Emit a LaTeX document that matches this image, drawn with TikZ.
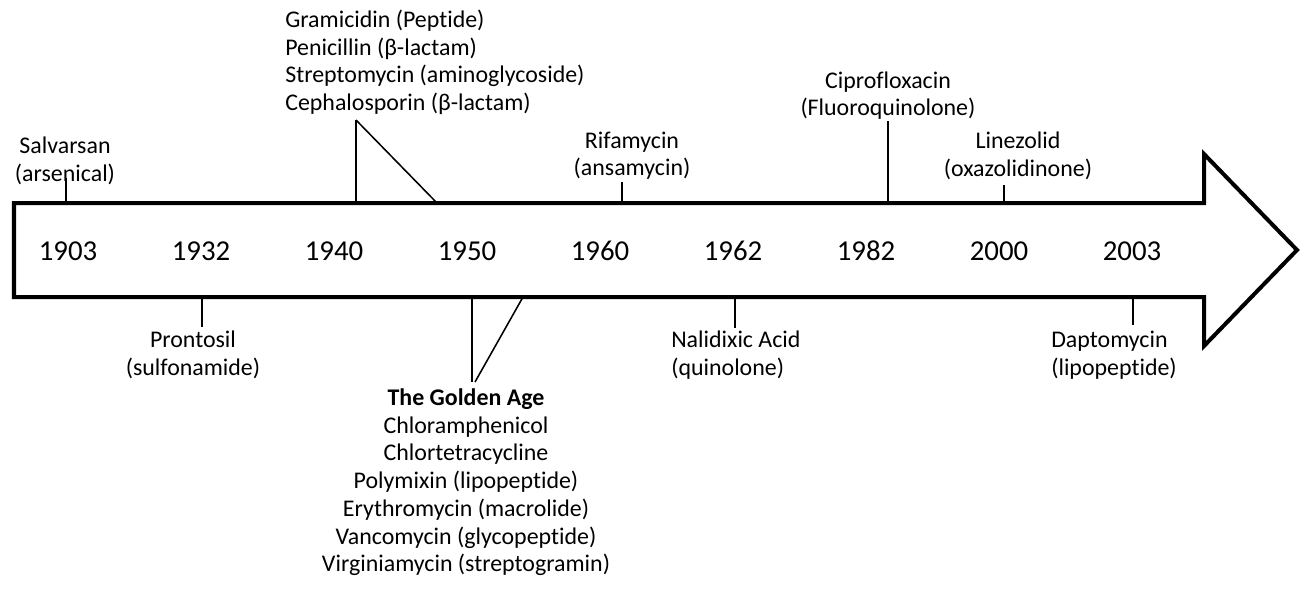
\documentclass[tikz,border=0pt]{standalone}
\usepackage{fontspec}
\setmainfont{Carlito}[Ligatures=NoCommon]
\usetikzlibrary{positioning, calc}

\begin{document}
\begin{tikzpicture}[x=0.025cm, y=-0.025cm]

  % --- ESTILOS ---
  \tikzset{
    timeline/.style={draw=black, line width=2.85pt, miter limit=10},
    year/.style={font=\fontsize{20.5}{24}\selectfont, inner sep=0pt},
    drug/.style={font=\fontsize{17}{19.7}\selectfont, inner sep=0pt, align=center},
    tick/.style={draw=black, line width=1.1pt}
  }

  \useasboundingbox (0,0) rectangle (1303,588);

  % --- SETA PRINCIPAL ---
  \coordinate (top) at (0,203);
  \coordinate (bot) at (0,297);
  \draw[timeline] (14,203) -- (1204,203) -- (1204,154) -- (1297,250)
    -- (1204,346) -- (1204,297) -- (14,297) -- cycle;

  % --- ANOS ---
  \foreach \ano [count=\i from 0] in {1903,1932,1940,1950,1960,1962,1982,2000,2003} {
    \node[year] (y\ano) at (68+133*\i, 251) {\ano};
  }

  % --- RÓTULOS SUPERIORES ---
  \node[drug, anchor=south] (salvarsan) at (65,185) {Salvarsan\\(arsenical)};
  \node[drug, align=left, anchor=south west] (gramicidin) at (285,115)
    {Gramicidin (Peptide)\\Penicillin (β-lactam)\\Streptomycin (aminoglycoside)\\Cephalosporin (β-lactam)};
  \node[drug, anchor=south] (rifamycin) at (632,180) {Rifamycin\\(ansamycin)};
  \node[drug, anchor=south] (cipro) at (888,120) {Ciprofloxacin\\(Fluoroquinolone)};
  \node[drug, anchor=south] (linezolid) at (1018,180) {Linezolid\\(oxazolidinone)};

  % Marcas superiores
  \coordinate (tSal) at (66,178);
  \coordinate (tGra) at (356,120);
  \coordinate (dGra) at (437,203);
  \coordinate (tRif) at (622,182);
  \coordinate (tCip) at (888,121);
  \coordinate (tLin) at (1004,185);
  \foreach \t in {tSal, tGra, tRif, tCip, tLin} {
    \draw[tick] (\t) -- (\t |- top);
  }
  \draw[tick] (tGra) -- (dGra);

  % --- RÓTULOS INFERIORES ---
  \node[drug, anchor=north] (prontosil) at (193,330.5) {Prontosil\\(sulfonamide)};
  \node[drug, align=left, anchor=north west] (nalidixic) at (671,330.5) {Nalidixic Acid\\(quinolone)};
  \node[drug, anchor=north] (golden) at (466,388.5)
    {\textbf{The Golden Age}\\Chloramphenicol\\Chlortetracycline\\Polymixin (lipopeptide)\\Erythromycin (macrolide)\\Vancomycin (glycopeptide)\\Virginiamycin (streptogramin)};
  \node[drug, align=left, anchor=north west] (daptomycin) at (1051,331) {Daptomycin\\(lipopeptide)};

  % Marcas inferiores
  \coordinate (tPro) at (202,327);
  \coordinate (tNal) at (735,328);
  \coordinate (tGol) at (472,382);
  \coordinate (dGolA) at (523,297);
  \coordinate (dGolB) at (475,382);
  \coordinate (tDap) at (1133,325);
  \foreach \t in {tPro, tNal, tGol, tDap} {
    \draw[tick] (\t |- bot) -- (\t);
  }
  \draw[tick] (dGolA) -- (dGolB);

\end{tikzpicture}
\end{document}
